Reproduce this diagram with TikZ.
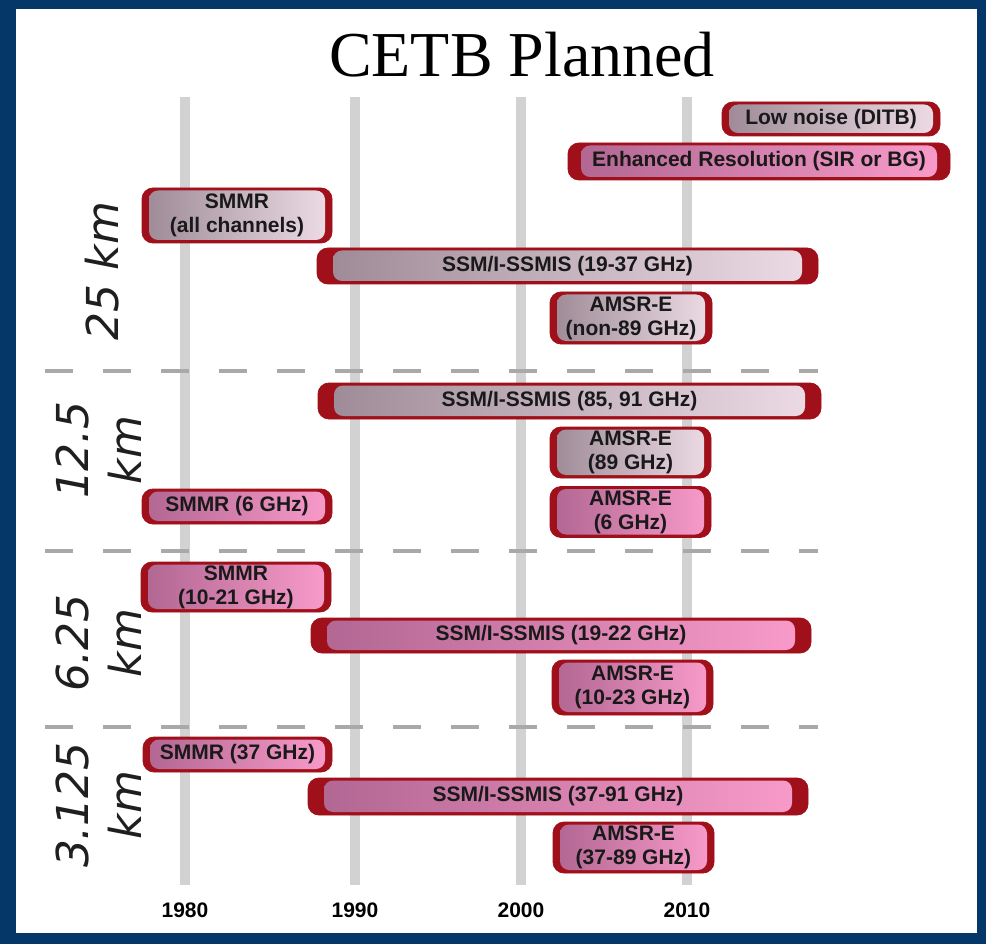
\documentclass[tikz,border=0pt]{standalone}
\usepackage{fontspec}
\setmainfont{Liberation Serif}
\setsansfont{Liberation Sans}
\newfontfamily\kmfont{DejaVu Sans}
\usepackage{tikz}
\usetikzlibrary{positioning}
\definecolor{frameblue}{HTML}{053769}
\definecolor{yeargray}{HTML}{D2D2D2}
\definecolor{dashgray}{HTML}{A9A9A9}
\definecolor{rimred}{HTML}{A0101A}
\definecolor{mauveleft}{HTML}{9C8995}
\definecolor{mauveright}{HTML}{EEDDE6}
\definecolor{pinkleft}{HTML}{B06591}
\definecolor{pinkright}{HTML}{FA9CCB}
\tikzset{
    barinset/.store in=\barinset, barinset=7pt,
    barleft/.store in=\barleft, barleft=mauveleft,
    barright/.store in=\barright, barright=mauveright,
    sensorbar/.style={
        fill=rimred, draw=rimred, line width=0.8pt,
        rounded corners=11pt, inner sep=0pt, align=center,
        font=\sffamily\bfseries\fontsize{21}{24}\selectfont, text=black!90,
        path picture={
            \shade[left color=\barleft, right color=\barright, rounded corners=9pt]
                ([xshift=\barinset, yshift=-2.5pt]path picture bounding box.north west)
                rectangle ([xshift=-\barinset, yshift=3pt]path picture bounding box.south east);
        }
    },
    graybox/.style={sensorbar, barleft=mauveleft, barright=mauveright},
    pinkbox/.style={sensorbar, barleft=pinkleft, barright=pinkright},
    band/.style={barinset=16pt},
    scalelabel/.style={rotate=90, align=center, font=\kmfont\itshape\fontsize{44}{53}\selectfont, text=black!88},
    yearlabel/.style={font=\sffamily\bfseries\fontsize{21}{24}\selectfont},
    yearline/.style={draw=yeargray, line width=10pt},
    separator/.style={draw=dashgray, line width=4pt, dash pattern=on 28pt off 30pt}
}

\begin{document}
\begin{tikzpicture}[x=1pt, y=-1pt]
    \fill[frameblue] (0,0) rectangle (986,944);
    \fill[white] (16,9) rectangle (977,933);
    \useasboundingbox (0,0) rectangle (986,944);

    \node[font=\fontsize{64}{70}\selectfont, anchor=base] (title) at (522,77) {CETB Planned};

    \foreach \yr/\xpos in {1980/185, 1990/355, 2000/521, 2010/687} {
        \draw[yearline] (\xpos,97) -- (\xpos,885);
        \node[yearlabel] (yr\yr) at (\xpos,910) {\yr};
    }
    \foreach \ypos in {371, 551, 727} {
        \draw[separator] (45,\ypos) -- (818,\ypos);
    }

    \node[scalelabel] (km25) at (102,271) {25 km};
    \node[scalelabel] (km12) at (99,450) {12.5\\km};
    \node[scalelabel] (km6) at (99,643) {6.25\\km};
    \node[scalelabel] (km3) at (99,805) {3.125\\km};

    \node[graybox, minimum width=218pt, minimum height=34pt] (lownoise) at (831,119) {Low noise (DITB)};
    \node[pinkbox, band, barinset=13pt, minimum width=382pt, minimum height=37pt] (enhanced) at (759,161.5) {Enhanced Resolution (SIR or BG)};

    \node[graybox, minimum width=190pt, minimum height=55pt] (smmrA) at (237,215.5) {SMMR\\(all channels)};
    \node[graybox, band, minimum width=501pt, minimum height=36pt] (ssmiA) at (567.5,266) {SSM/I-SSMIS (19-37 GHz)};
    \node[graybox, minimum width=162pt, minimum height=52pt] (amsrA) at (631,318) {AMSR-E\\(non-89 GHz)};

    \node[graybox, band, minimum width=503pt, minimum height=36pt] (ssmiB) at (569.5,401) {SSM/I-SSMIS (85, 91 GHz)};
    \node[graybox, minimum width=161pt, minimum height=51pt] (amsrB) at (630.5,452.5) {AMSR-E\\(89 GHz)};
    \node[pinkbox, minimum width=190pt, minimum height=35pt] (smmrB) at (237,506.5) {SMMR (6 GHz)};
    \node[pinkbox, minimum width=161pt, minimum height=51pt] (amsrC) at (630.5,512) {AMSR-E\\(6 GHz)};

    \node[pinkbox, minimum width=190pt, minimum height=50pt] (smmrC) at (236,587) {SMMR\\(10-21 GHz)};
    \node[pinkbox, band, minimum width=500pt, minimum height=35pt] (ssmiC) at (561,635.5) {SSM/I-SSMIS (19-22 GHz)};
    \node[pinkbox, minimum width=161pt, minimum height=55pt] (amsrD) at (632.5,687.5) {AMSR-E\\(10-23 GHz)};

    \node[pinkbox, minimum width=189pt, minimum height=35pt] (smmrD) at (237.5,754.5) {SMMR (37 GHz)};
    \node[pinkbox, band, minimum width=500pt, minimum height=37pt] (ssmiD) at (558,796.5) {SSM/I-SSMIS (37-91 GHz)};
    \node[pinkbox, minimum width=161pt, minimum height=51pt] (amsrE) at (633.5,847.5) {AMSR-E\\(37-89 GHz)};
\end{tikzpicture}
\end{document}
